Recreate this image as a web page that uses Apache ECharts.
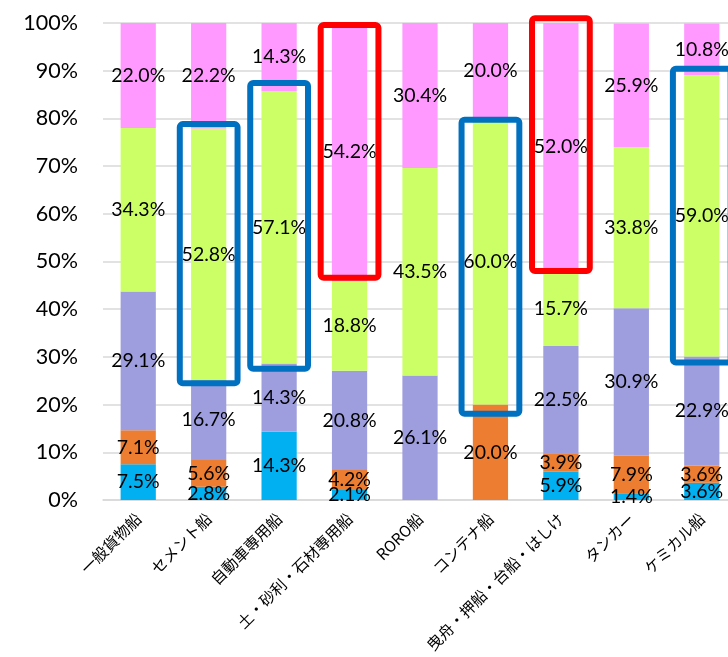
<!DOCTYPE html>
<html>
<head>
<meta charset="utf-8">
<script src="https://cdn.jsdelivr.net/npm/echarts@6/dist/echarts.min.js"></script>
<style>
  html, body { margin: 0; padding: 0; background: #fff; }
  #chart { width: 728px; height: 657px; }
</style>
</head>
<body>
<div id="chart"></div>
<script>
// Ship types
const categories = ['一般貨物船', 'セメント船', '自動車専用船', '土・砂利・石材専用船', 'RORO船',
  'コンテナ船', '曳舟・押船・台船・はしけ', 'タンカー', 'ケミカル船'];

// Share of each group within a ship type (%), stacked bottom to top
const seriesCyan     = [7.5, 2.8, 14.3, 2.1, 0, 0, 5.9, 1.4, 3.6];
const seriesOrange   = [7.1, 5.6, 0, 4.2, 0, 20.0, 3.9, 7.9, 3.6];
const seriesLavender = [29.1, 16.7, 14.3, 20.8, 26.1, 0, 22.5, 30.9, 22.9];
const seriesGreen    = [34.3, 52.8, 57.1, 18.8, 43.5, 60.0, 15.7, 33.8, 59.0];
const seriesPink     = [22.0, 22.2, 14.3, 54.2, 30.4, 20.0, 52.0, 25.9, 10.8];

// Highlight frames: [category index, lower %, upper %]
const blueFrames = [[1, 24.5, 78.8], [2, 27.5, 87.4], [5, 18.1, 79.7], [8, 28.8, 90.4]];
const redFrames  = [[3, 46.6, 99.6], [6, 48.0, 101.0]];

const yTicks = [0, 10, 20, 30, 40, 50, 60, 70, 80, 90, 100];

const numFont = 'Lato, "Liberation Sans", sans-serif';
const jpFont = '"Noto Sans CJK JP", sans-serif';

function stackSeries(values, color) {
  return {
    type: 'bar',
    stack: 'share',
    barWidth: '50%',
    data: values,
    itemStyle: { color: color },
    label: {
      show: true,
      position: 'inside',
      color: '#000',
      fontFamily: numFont,
      fontSize: 19.5,
      formatter: p => (p.value > 0 ? p.value.toFixed(1) + '%' : '')
    },
    emphasis: { disabled: true }
  };
}

function frameSeries(frames, color) {
  return {
    type: 'custom',
    z: 10,
    clip: false,
    silent: true,
    encode: { x: 0, y: [1, 2] },
    data: frames,
    renderItem: function (params, api) {
      const top = api.coord([api.value(0), api.value(2)]);
      const bottom = api.coord([api.value(0), api.value(1)]);
      const w = api.size([1, 0])[0] * 0.82;
      return {
        type: 'rect',
        shape: { x: top[0] - w / 2, y: top[1], width: w, height: bottom[1] - top[1], r: 3 },
        style: { fill: null, stroke: color, lineWidth: 6 }
      };
    }
  };
}

const chart = echarts.init(document.getElementById('chart'), null, { renderer: 'canvas' });
chart.setOption({
  animation: false,
  backgroundColor: '#fff',
  grid: { left: 103, top: 23, width: 634, bottom: 157, containLabel: false, outerBoundsMode: 'none' },
  xAxis: {
    type: 'category',
    data: categories,
    axisTick: { show: false },
    axisLine: { show: true, lineStyle: { color: '#D9D9D9', width: 1.5 } },
    axisLabel: {
      rotate: 45,
      interval: 0,
      margin: 16,
      color: '#000',
      fontFamily: jpFont,
      fontSize: 15.5
    }
  },
  yAxis: {
    type: 'value',
    min: yTicks[0],
    max: yTicks[yTicks.length - 1],
    interval: 10,
    axisLine: { show: false },
    axisTick: { show: false },
    splitLine: { lineStyle: { color: '#D9D9D9', width: 1.5 } },
    axisLabel: {
      margin: 25,
      color: '#000',
      fontFamily: numFont,
      fontSize: 21.5,
      formatter: '{value}%'
    }
  },
  series: [
    stackSeries(seriesCyan, '#00B0F0'),
    stackSeries(seriesOrange, '#ED7D31'),
    stackSeries(seriesLavender, '#9E9EDE'),
    stackSeries(seriesGreen, '#CCFF66'),
    stackSeries(seriesPink, '#FF99FF'),
    frameSeries(blueFrames, '#0070C0'),
    frameSeries(redFrames, '#FF0000')
  ]
});
</script>
</body>
</html>
